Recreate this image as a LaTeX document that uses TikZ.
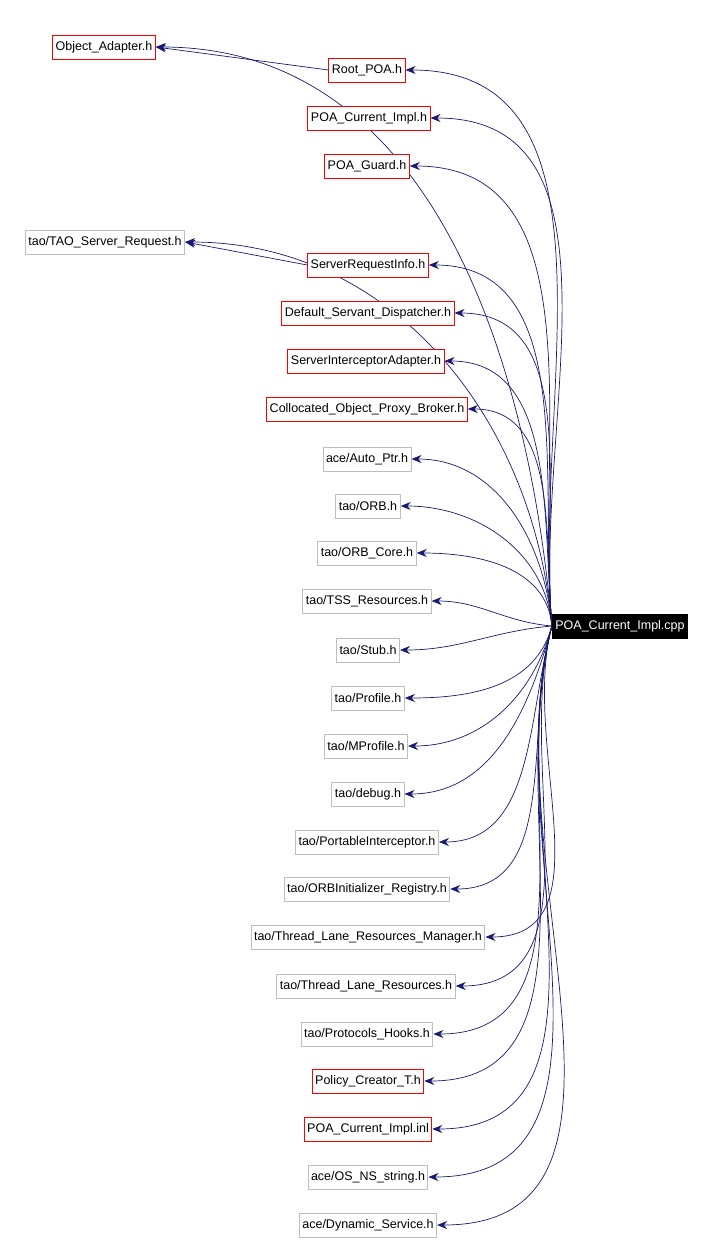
\documentclass[tikz,border=0pt]{standalone}
\usepackage{fontspec}
\setmainfont{Liberation Sans}
\usetikzlibrary{arrows.meta,backgrounds}
\definecolor{edge}{RGB}{25,25,112}
\definecolor{nodered}{RGB}{255,0,0}
\definecolor{nodegray}{RGB}{190,190,190}
\begin{document}
\begin{tikzpicture}[x=1pt,y=-1pt,
 base/.style={draw,line width=1pt,font=\fontsize{12.5}{14}\selectfont,minimum height=24pt,inner sep=3pt,fill=white},
 redbox/.style={base,draw=nodered},
 graybox/.style={base,draw=nodegray},
 main/.style={base,fill=black,text=white,draw=black},
 dep/.style={draw=edge,line width=0.7pt,-{Stealth[length=10pt,width=8pt]},fill=none}]
\useasboundingbox (0,0) rectangle (710,1243);
\node[main] (cpp) at (620,626) {POA\_Current\_Impl.cpp};
\foreach \n/\x/\y/\s/\t in {
 oa/104/47/redbox/{Object\_Adapter.h},
 root/367/70/redbox/{Root\_POA.h},
 pci/369/118/redbox/{POA\_Current\_Impl.h},
 guard/367/166/redbox/{POA\_Guard.h},
 tsr/105/242/graybox/{tao/TAO\_Server\_Request.h},
 sri/368/265/redbox/{ServerRequestInfo.h},
 dsd/368/313/redbox/{Default\_Servant\_Dispatcher.h},
 sia/366/361/redbox/{ServerInterceptorAdapter.h},
 copb/367/409/redbox/{Collocated\_Object\_Proxy\_Broker.h},
 ap/367/459/graybox/{ace/Auto\_Ptr.h},
 orb/368/506/graybox/{tao/ORB.h},
 orbc/367/553/graybox/{tao/ORB\_Core.h},
 tss/367/601/graybox/{tao/TSS\_Resources.h},
 stub/368/650/graybox/{tao/Stub.h},
 prof/368/698/graybox/{tao/Profile.h},
 mprof/366/746/graybox/{tao/MProfile.h},
 dbg/368/794/graybox/{tao/debug.h},
 pi/367/842/graybox/{tao/PortableInterceptor.h},
 oir/367/889/graybox/{tao/ORBInitializer\_Registry.h},
 tlrm/368/937/graybox/{tao/Thread\_Lane\_Resources\_Manager.h},
 tlr/366/986/graybox/{tao/Thread\_Lane\_Resources.h},
 ph/367/1034/graybox/{tao/Protocols\_Hooks.h},
 pct/368/1081/redbox/{Policy\_Creator\_T.h},
 inl/368/1129/redbox/{POA\_Current\_Impl.inl},
 osns/368/1177/graybox/{ace/OS\_NS\_string.h},
 dyn/368/1225/graybox/{ace/Dynamic\_Service.h}}
 {\node[\s] (\n) at (\x,\y) {\t};}
\begin{scope}[on background layer]
\foreach \n in {oa,root,pci,guard,tsr,sri,dsd,sia,copb,ap,orb,orbc}
 \draw[dep] (cpp.west) to[out=95,in=0] (\n.east);
\draw[dep] (cpp.west) to[out=175,in=0] (tss.east);
\draw[dep] (cpp.west) to[out=185,in=0] (stub.east);
\foreach \n in {prof,mprof,dbg,pi,oir,tlrm,tlr,ph,pct,inl,osns,dyn}
 \draw[dep] (cpp.west) to[out=255,in=0] (\n.east);
\draw[dep] (root.west) -- (oa.east);
\draw[dep] (sri.west) -- (tsr.east);
\end{scope}
\end{tikzpicture}
\end{document}
